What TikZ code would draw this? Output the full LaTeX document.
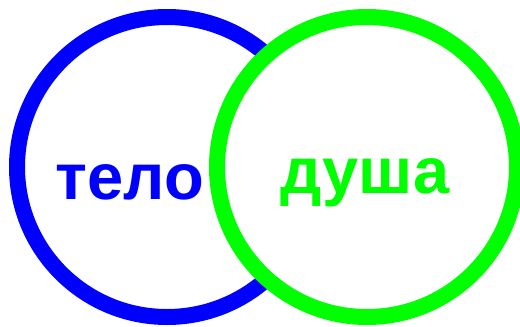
\documentclass[tikz,border=0pt]{standalone}
\usepackage{fontspec}
\setmainfont{Liberation Sans}
\begin{document}
\begin{tikzpicture}[x=1pt,y=-1pt,
  ring/.style={circle, line width=16pt, minimum size=300pt, inner sep=0pt},
  word/.style={anchor=base, inner sep=0pt, font=\fontsize{65}{65}\selectfont\bfseries}]
\useasboundingbox (0,0) rectangle (520,327);
\node[ring, draw=blue] (bodyring) at (167,167) {};
\node[ring, draw=green, fill=white] (soulring) at (367,167) {};
\node[word, text=blue] (body) at (130,199) {тело};
\node[word, text=green] (soul) at (365,193) {душа};
\end{tikzpicture}
\end{document}
